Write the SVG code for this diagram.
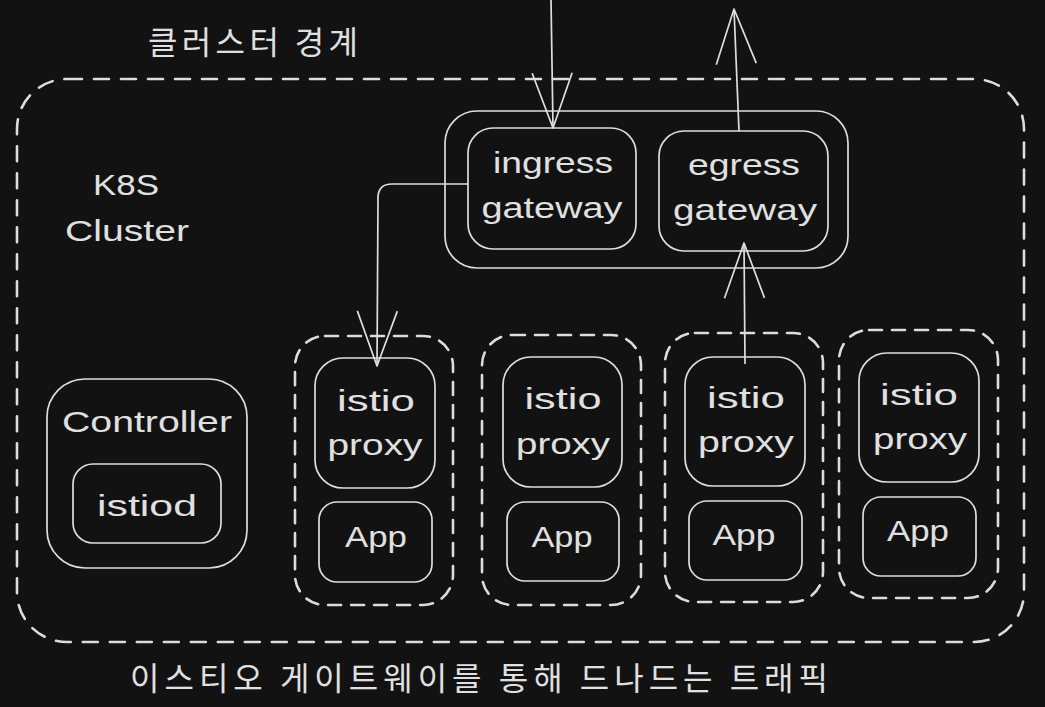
<svg xmlns="http://www.w3.org/2000/svg" width="1045" height="707" viewBox="0 0 1045 707">
<style>
.bg{fill:#121212}
.box{fill:none;stroke:#dedede;stroke-width:1.7}
.dash{fill:none;stroke:#dcdcdc;stroke-width:2.6;stroke-dasharray:13 10;stroke-linecap:round}
.odash{fill:none;stroke:#dcdcdc;stroke-width:2.6;stroke-dasharray:15 12;stroke-linecap:round}
.t{fill:#e0e0e0;font-family:"Liberation Sans","DejaVu Sans",sans-serif;font-size:30px;text-anchor:middle}
.k{fill:#e0e0e0;font-family:"Noto Sans CJK KR","Noto Sans",sans-serif;font-size:32px}
.conn{fill:none;stroke:#dedede;stroke-width:1.7}
</style>
<defs>
<marker id="arr" viewBox="-58 -23 62 46" refX="0" refY="0" markerWidth="62" markerHeight="46" markerUnits="userSpaceOnUse" orient="auto" overflow="visible">
<path d="M-55,-20 L0,0 L-55,20" fill="none" stroke="#dedede" stroke-width="1.7" stroke-linejoin="round"/>
</marker>
</defs>
<rect class="bg" x="0" y="0" width="1045" height="707"/>

<g id="cluster-boundary">
<rect class="odash" x="17" y="79" width="1007" height="563" rx="50"/>
<text class="k" x="148" y="54" textLength="210" lengthAdjust="spacing">클러스터 경계</text>
<text class="t" x="126" y="195" textLength="66" lengthAdjust="spacingAndGlyphs">K8S</text>
<text class="t" x="127" y="241" textLength="124" lengthAdjust="spacingAndGlyphs">Cluster</text>
</g>

<g id="gateways">
<rect class="box" x="445" y="111" width="403" height="157" rx="32"/>
</g>
<g id="ingress-gateway">
<rect class="box" x="468" y="128" width="168" height="121" rx="25"/>
<text class="t" x="553" y="173" textLength="120" lengthAdjust="spacingAndGlyphs">ingress</text>
<text class="t" x="552" y="218" textLength="141" lengthAdjust="spacingAndGlyphs">gateway</text>
</g>
<g id="egress-gateway">
<rect class="box" x="659" y="131" width="169" height="120" rx="25"/>
<text class="t" x="744" y="175" textLength="112" lengthAdjust="spacingAndGlyphs">egress</text>
<text class="t" x="745" y="220" textLength="144" lengthAdjust="spacingAndGlyphs">gateway</text>
</g>

<g id="controller">
<rect class="box" x="47" y="379" width="200" height="189" rx="38"/>
<text class="t" x="147" y="432" textLength="170" lengthAdjust="spacingAndGlyphs">Controller</text>
</g>
<g id="istiod">
<rect class="box" x="73" y="464" width="148" height="79" rx="20"/>
<text class="t" x="147" y="516" textLength="100" lengthAdjust="spacingAndGlyphs">istiod</text>
</g>

<g id="pod1">
<rect class="dash" x="295" y="336" width="158" height="269" rx="30"/>
</g>
<g id="proxy1">
<rect class="box" x="315" y="358" width="120" height="130" rx="28"/>
<text class="t" x="376" y="411" textLength="78" lengthAdjust="spacingAndGlyphs">istio</text>
<text class="t" x="375" y="455" textLength="95" lengthAdjust="spacingAndGlyphs">proxy</text>
</g>
<g id="app1">
<rect class="box" x="319" y="502" width="113" height="80" rx="18"/>
<text class="t" x="376" y="547" textLength="62" lengthAdjust="spacingAndGlyphs">App</text>
</g>

<g id="pod2">
<rect class="dash" x="482" y="335" width="159" height="270" rx="30"/>
</g>
<g id="proxy2">
<rect class="box" x="503" y="357" width="119" height="130" rx="28"/>
<text class="t" x="563" y="409" textLength="77" lengthAdjust="spacingAndGlyphs">istio</text>
<text class="t" x="563" y="454" textLength="94" lengthAdjust="spacingAndGlyphs">proxy</text>
</g>
<g id="app2">
<rect class="box" x="507" y="502" width="112" height="79" rx="18"/>
<text class="t" x="562" y="547" textLength="61" lengthAdjust="spacingAndGlyphs">App</text>
</g>

<g id="pod3">
<rect class="dash" x="665" y="333" width="158" height="269" rx="30"/>
</g>
<g id="proxy3">
<rect class="box" x="685" y="357" width="120" height="129" rx="28"/>
<text class="t" x="746" y="408" textLength="78" lengthAdjust="spacingAndGlyphs">istio</text>
<text class="t" x="746" y="452" textLength="96" lengthAdjust="spacingAndGlyphs">proxy</text>
</g>
<g id="app3">
<rect class="box" x="689" y="501" width="113" height="79" rx="18"/>
<text class="t" x="744" y="545" textLength="63" lengthAdjust="spacingAndGlyphs">App</text>
</g>

<g id="pod4">
<rect class="dash" x="839" y="330" width="159" height="268" rx="30"/>
</g>
<g id="proxy4">
<rect class="box" x="859" y="353" width="120" height="129" rx="28"/>
<text class="t" x="919" y="405" textLength="78" lengthAdjust="spacingAndGlyphs">istio</text>
<text class="t" x="920" y="449" textLength="94" lengthAdjust="spacingAndGlyphs">proxy</text>
</g>
<g id="app4">
<rect class="box" x="863" y="497" width="113" height="79" rx="18"/>
<text class="t" x="918" y="541" textLength="62" lengthAdjust="spacingAndGlyphs">App</text>
</g>

<g id="connectors">
<path class="conn" d="M551,0 L553,128" marker-end="url(#arr)"/>
<path class="conn" d="M739,131 L734,9" marker-end="url(#arr)"/>
<path class="conn" d="M468,184 L392,184 Q378,184 378,198 L377,366" marker-end="url(#arr)"/>
<path class="conn" d="M745,364 L744,243" marker-end="url(#arr)"/>
</g>

<g id="caption">
<text class="k" x="130" y="690" textLength="698" lengthAdjust="spacing">이스티오 게이트웨이를 통해 드나드는 트래픽</text>
</g>
</svg>
